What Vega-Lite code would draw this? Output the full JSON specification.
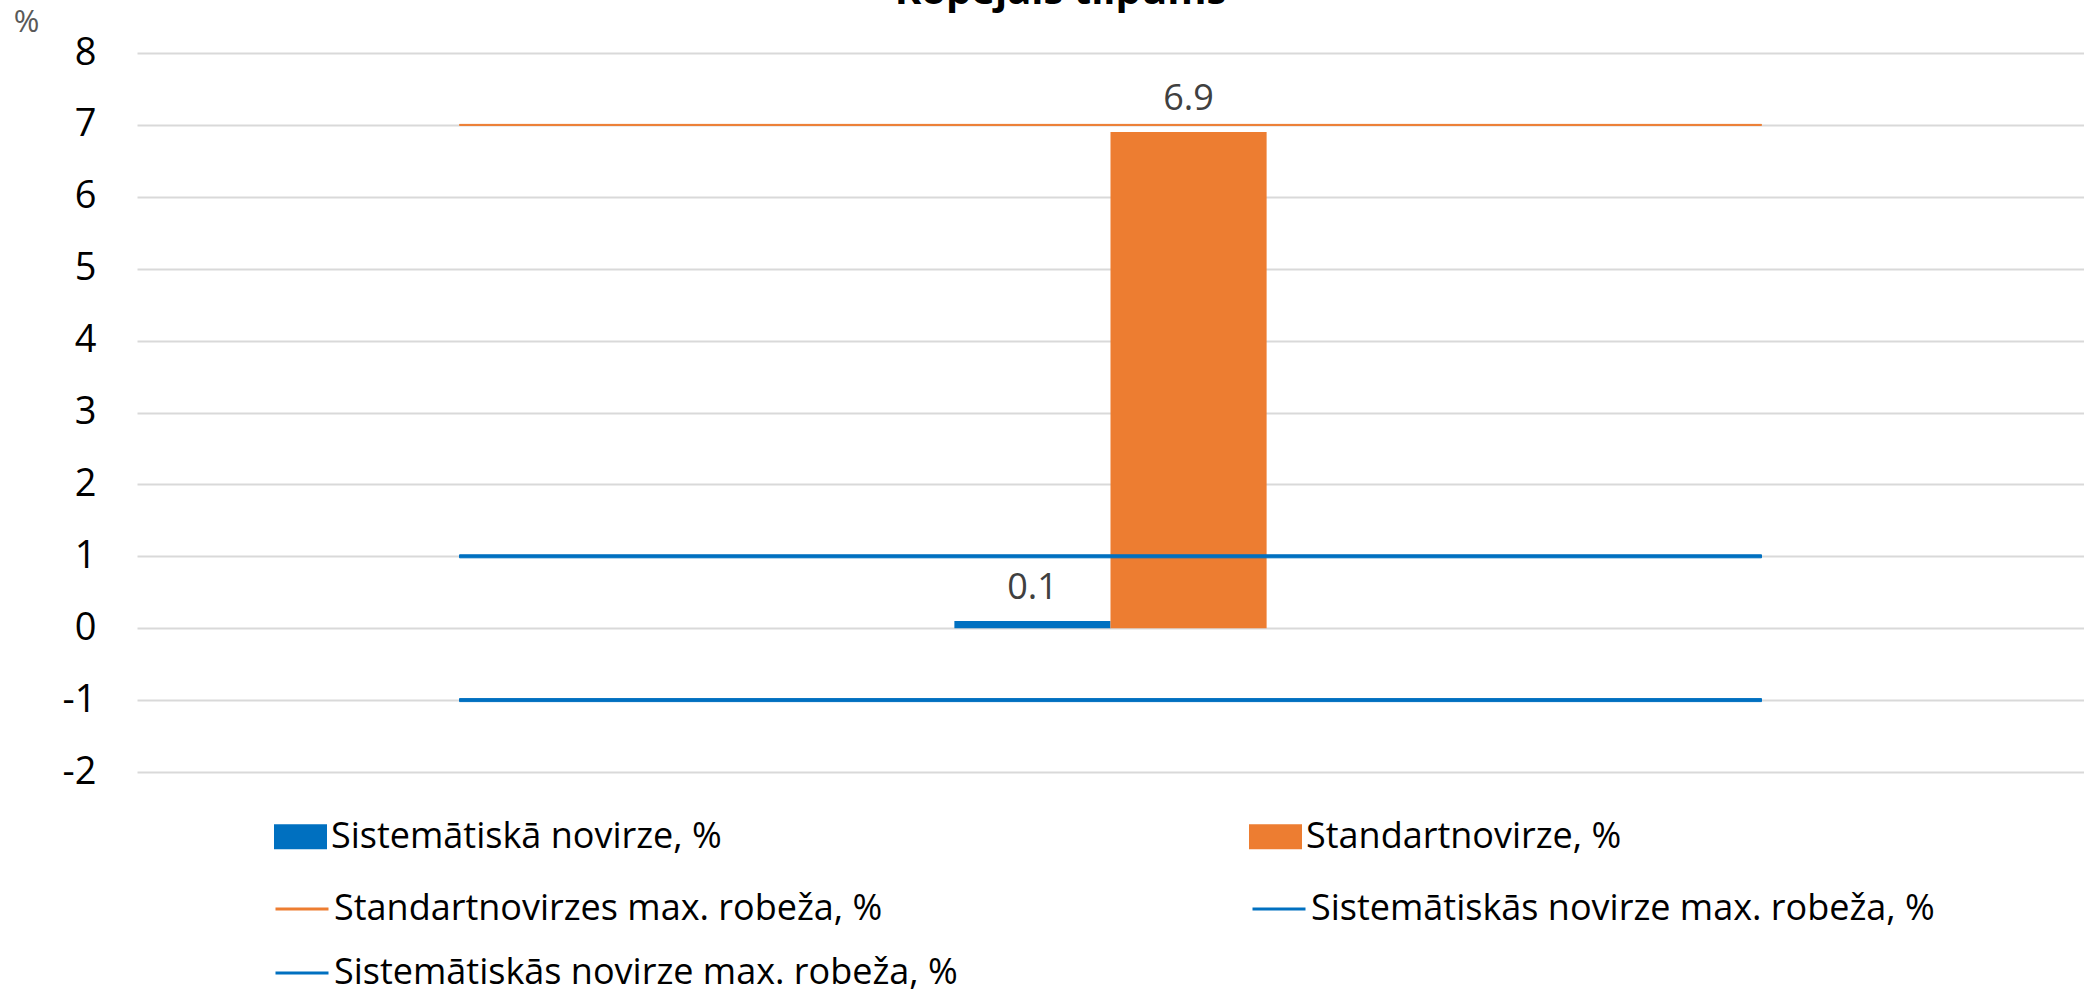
{
  "$schema": "https://vega.github.io/schema/vega-lite/v6.json",
  "width": 1947,
  "height": 719,
  "autosize": {"type": "none"},
  "padding": {"left": 137, "top": 53, "right": 0, "bottom": 226},
  "background": "white",
  "title": {
    "text": "Kopējais tilpums",
    "anchor": "middle",
    "frame": "group",
    "orient": "top",
    "offset": 0,
    "dx": -50,
    "dy": 6,
    "fontSize": 40,
    "fontWeight": "bold",
    "font": "Open Sans",
    "color": "#000000"
  },
  "config": {
    "view": {"stroke": null},
    "font": "Open Sans"
  },
  "data": {
    "values": [
      {"cat": "Kopējais tilpums", "series": "Sistemātiskā novirze, %", "kind": "bar", "value": 0.1},
      {"cat": "Kopējais tilpums", "series": "Standartnovirze, %", "kind": "bar", "value": 6.9},
      {"cat": "Kopējais tilpums", "series": "Standartnovirzes max. robeža, %", "kind": "line", "value": 7},
      {"cat": "Kopējais tilpums", "series": "Sistemātiskās novirze max. robeža, %", "kind": "line", "value": 1},
      {"cat": "Kopējais tilpums", "series": "Sistemātiskās novirze max. robeža, % ", "kind": "line", "value": -1}
    ]
  },
  "encoding": {
    "x": {
      "field": "cat",
      "type": "nominal",
      "scale": {"paddingInner": 0.618, "paddingOuter": 1},
      "axis": null
    },
    "y": {
      "field": "value",
      "type": "quantitative",
      "scale": {"domain": [-2, 8], "nice": false, "zero": false},
      "axis": {
        "values": [-2, -1, 0, 1, 2, 3, 4, 5, 6, 7, 8],
        "labelExpr": "'' + datum.value",
        "title": "%",
        "titleAngle": 0,
        "titleX": -111,
        "titleY": -31,
        "titleAlign": "center",
        "titleBaseline": "middle",
        "titleFontSize": 31,
        "titleFontWeight": "normal",
        "titleColor": "#595959",
        "domain": false,
        "ticks": false,
        "labelPadding": 41,
        "labelFontSize": 38,
        "labelColor": "#000000",
        "gridColor": "#D9D9D9",
        "gridWidth": 2
      }
    }
  },
  "layer": [
    {
      "transform": [{"filter": "datum.kind === 'bar'"}],
      "mark": {"type": "bar", "opacity": 1},
      "encoding": {
        "xOffset": {
          "field": "series",
          "type": "nominal",
          "scale": {"domain": ["Sistemātiskā novirze, %", "Standartnovirze, %"], "paddingInner": 0, "paddingOuter": 0}
        },
        "fill": {
          "field": "series",
          "type": "nominal",
          "scale": {
            "domain": ["Sistemātiskā novirze, %", "Standartnovirze, %"],
            "range": ["#0070C0", "#ED7D31"]
          },
          "legend": {
            "title": null,
            "orient": "none",
            "legendX": 137,
            "legendY": 757,
            "direction": "horizontal",
            "columns": 2,
            "columnPadding": 527,
            "padding": 0,
            "symbolType": "M-1,-0.47H1V0.47H-1Z",
            "symbolSize": 2809,
            "symbolStrokeWidth": 0,
            "symbolOpacity": 1,
            "labelFontSize": 36,
            "labelFont": "Open Sans",
            "labelColor": "#000000",
            "labelOffset": 4,
            "labelLimit": 1200,
            "labelBaseline": "middle"
          }
        }
      }
    },
    {
      "transform": [{"filter": "datum.kind === 'bar'"}],
      "mark": {"type": "text", "baseline": "alphabetic", "dy": -22, "fontSize": 36},
      "encoding": {
        "xOffset": {"field": "series", "type": "nominal"},
        "text": {"field": "value", "type": "quantitative", "format": ".1f"},
        "color": {"value": "#404040"}
      }
    },
    {
      "transform": [{"filter": "datum.series === 'Standartnovirzes max. robeža, %'"}],
      "mark": {"type": "tick", "orient": "horizontal", "size": 1302, "thickness": 1, "strokeWidth": 1, "fill": "#ED7D31", "opacity": 1},
      "encoding": {
        "stroke": {
          "field": "series",
          "type": "nominal",
          "scale": {
            "domain": [
              "Standartnovirzes max. robeža, %",
              "Sistemātiskās novirze max. robeža, %",
              "Sistemātiskās novirze max. robeža, % "
            ],
            "range": ["#ED7D31", "#0070C0", "#0070C0"]
          },
          "legend": {
            "title": null,
            "orient": "none",
            "legendX": 137,
            "legendY": 828,
            "direction": "horizontal",
            "columns": 2,
            "columnPadding": 288,
            "rowPadding": 18,
            "padding": 0,
            "symbolType": "stroke",
            "symbolSize": 2809,
            "symbolStrokeWidth": 3,
            "symbolOpacity": 1,
            "labelFontSize": 36,
            "labelFont": "Open Sans",
            "labelColor": "#000000",
            "labelOffset": 4,
            "labelLimit": 1200,
            "labelBaseline": "middle",
            "encode": {
              "symbols": {
                "strokeWidth": {"value": {"expr": "datum.value === 'Standartnovirzes max. robeža, %' ? 2 : 4"}}
              }
            }
          }
        }
      }
    },
    {
      "transform": [{"filter": "datum.kind === 'line' && datum.series !== 'Standartnovirzes max. robeža, %'"}],
      "mark": {"type": "tick", "orient": "horizontal", "size": 1302, "thickness": 3, "strokeWidth": 1, "fill": "#0070C0", "opacity": 1},
      "encoding": {
        "stroke": {"field": "series", "type": "nominal"}
      }
    }
  ]
}
